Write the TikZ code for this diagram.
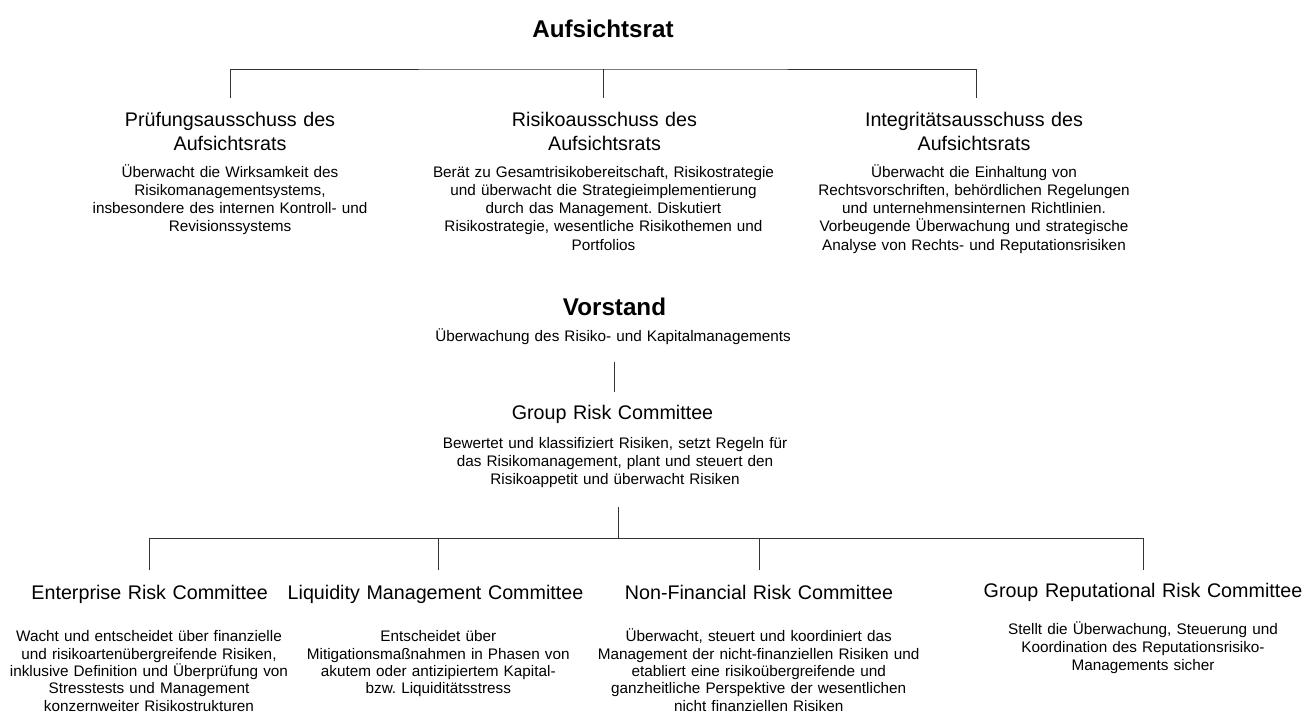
\documentclass[tikz,border=0pt]{standalone}
\usepackage{fontspec}
\setmainfont{Liberation Sans}
\usepackage{tikz}
\frenchspacing
\tikzset{
  chief/.style={font=\fontsize{24.2}{29}\selectfont\bfseries, anchor=base, inner sep=0pt},
  cttitle/.style={font=\fontsize{19.7}{24}\selectfont, align=center, text width=360pt, anchor=base, inner sep=0pt},
  ctdesc/.style={font=\fontsize{15.3}{18.3}\selectfont, align=center, text width=360pt, anchor=base, inner sep=0pt},
  ctdescb/.style={ctdesc, font=\fontsize{15.3}{17.4}\selectfont},
  orgline/.style={line width=0.9pt, black!80}
}

\begin{document}
\begin{tikzpicture}[line cap=butt,line join=miter,x=1pt,y=-1pt]
	\useasboundingbox (0,0) rectangle (1304,713);
	% Aufsichtsrat und Ausschuesse
	\node[chief] (aufsichtsrat) at (603,37.7) {Aufsichtsrat};
	\node[cttitle] (pruefung) at (230,126.5) {Prüfungsausschuss des\\Aufsichtsrats};
	\node[ctdesc] (pruefung-txt) at (230,177) {Überwacht die Wirksamkeit des\\Risikomanagementsystems,\\insbesondere des internen Kontroll- und\\Revisionssystems};
	\node[cttitle] (risiko) at (604.5,126.5) {Risikoausschuss des\\Aufsichtsrats};
	\node[ctdesc] (risiko-txt) at (603.5,177) {Berät zu Gesamtrisikobereitschaft, Risikostrategie\\und überwacht die Strategieimplementierung\\durch das Management. Diskutiert\\Risikostrategie, wesentliche Risikothemen und\\Portfolios};
	\node[cttitle] (integ) at (974,126.5) {Integritätsausschuss des\\Aufsichtsrats};
	\node[ctdesc] (integ-txt) at (974,177) {Überwacht die Einhaltung von\\Rechtsvorschriften, behördlichen Regelungen\\und unternehmensinternen Richtlinien.\\Vorbeugende Überwachung und strategische\\Analyse von Rechts- und Reputationsrisiken};
	\coordinate (ar-bus) at (603,69);
	\coordinate (pruefung-in) at (230,98);
	\coordinate (risiko-in) at (603,98);
	\coordinate (integ-in) at (976.7,98);
	\draw[orgline] (pruefung-in) |- (ar-bus) -| (integ-in);
	\draw[orgline] (ar-bus) -- (risiko-in);
	% Vorstand und Group Risk Committee
	\node[chief] (vorstand) at (614.5,315) {Vorstand};
	\node[ctdesc] (vorstand-txt) at (613,341) {Überwachung des Risiko- und Kapitalmanagements};
	\node[cttitle] (grc) at (612.5,419) {Group Risk Committee};
	\node[ctdesc] (grc-txt) at (615,448.3) {Bewertet und klassifiziert Risiken, setzt Regeln für\\das Risikomanagement, plant und steuert den\\Risikoappetit und überwacht Risiken};
	\coordinate (vorstand-out) at (614,362);
	\coordinate (grc-in) at (614,392);
	\draw[orgline] (vorstand-out) -- (grc-in);
	% Committees
	\node[cttitle] (erc) at (149.7,599) {Enterprise Risk Committee};
	\node[ctdescb] (erc-txt) at (149,641.7) {Wacht und entscheidet über finanzielle\\und risikoartenübergreifende Risiken,\\inklusive Definition und Überprüfung von\\Stresstests und Management\\konzernweiter Risikostrukturen};
	\node[cttitle] (lmc) at (435.5,599) {Liquidity Management Committee};
	\node[ctdescb] (lmc-txt) at (438.3,641.7) {Entscheidet über\\Mitigationsmaßnahmen in Phasen von\\akutem oder antizipiertem Kapital-\\bzw. Liquiditätsstress};
	\node[cttitle] (nfrc) at (759,599) {Non-Financial Risk Committee};
	\node[ctdescb] (nfrc-txt) at (758.7,641.7) {Überwacht, steuert und koordiniert das\\Management der nicht-finanziellen Risiken und\\etabliert eine risikoübergreifende und\\ganzheitliche Perspektive der wesentlichen\\nicht finanziellen Risiken};
	\node[cttitle] (grrc) at (1143,597) {Group Reputational Risk Committee};
	\node[ctdescb, font=\fontsize{15.3}{18.3}\selectfont] (grrc-txt) at (1143,634) {Stellt die Überwachung, Steuerung und\\Koordination des Reputationsrisiko-\\Managements sicher};
	\coordinate (grc-out) at (618,507);
	\coordinate (grc-bus) at (618,538);
	\coordinate (erc-in) at (149.3,570);
	\coordinate (lmc-in) at (438.3,570);
	\coordinate (nfrc-in) at (759.3,570);
	\coordinate (grrc-in) at (1143.3,570);
	\draw[orgline] (erc-in) |- (grc-bus) -| (grrc-in);
	\draw[orgline] (grc-out) -- (grc-bus);
	\draw[orgline] (lmc-in) -- (lmc-in |- grc-bus);
	\draw[orgline] (nfrc-in) -- (nfrc-in |- grc-bus);
\end{tikzpicture}
\end{document}
